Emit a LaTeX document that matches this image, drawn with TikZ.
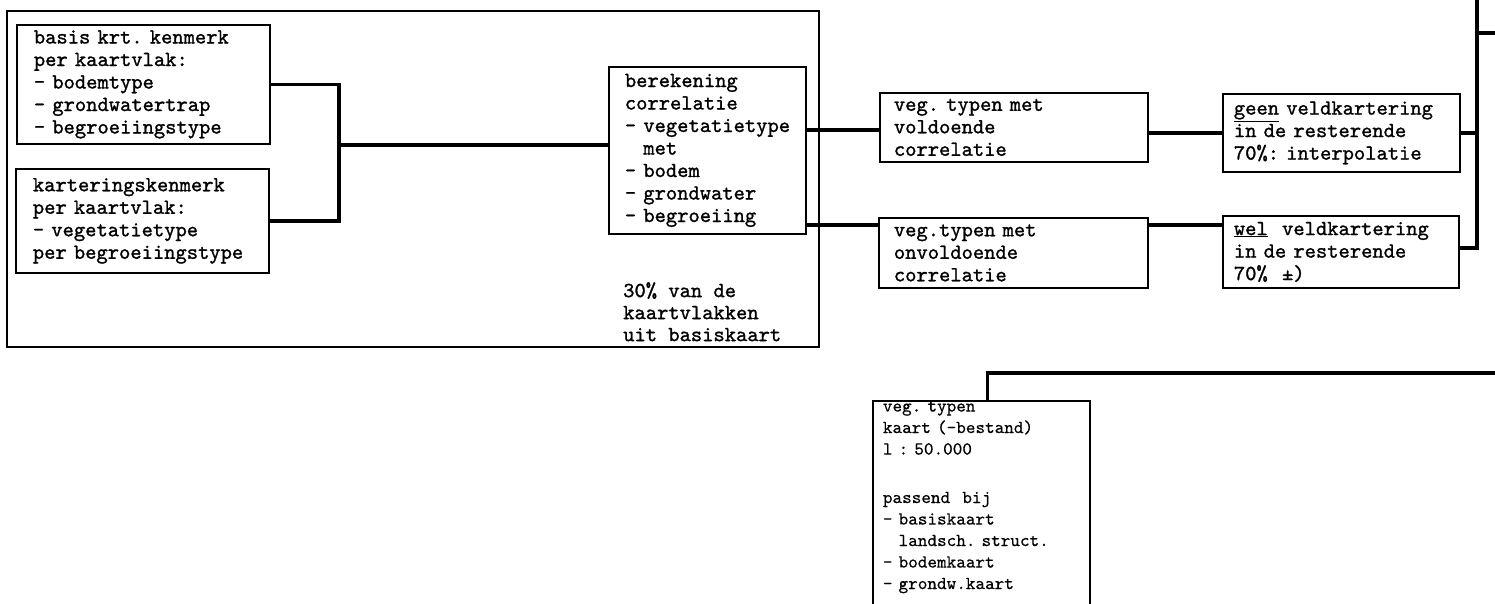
\documentclass[tikz,border=0pt]{standalone}
\usepackage{fontspec}
\newfontfamily\twfont[FakeBold=1.2]{lmmono10-regular.otf}
\newfontfamily\lowfont[FakeBold=0.4]{lmmono10-regular.otf}
\newcommand\monospacing{\spaceskip=0.525em plus 0pt minus 0pt\relax\xspaceskip=0.525em plus 0pt minus 0pt\relax}
\usetikzlibrary{calc}
\hyphenpenalty=10000\relax
\exhyphenpenalty=10000\relax
\frenchspacing
\begin{document}
\begin{tikzpicture}[x=1pt,y=-1pt,
  box/.style={draw, line width=1.8pt, rectangle, anchor=north west, align=left,
    inner ysep=0pt, font=\twfont\fontsize{21.5}{22.5}\selectfont\monospacing},
  lowbox/.style={draw, line width=1.8pt, rectangle, anchor=north west, align=left,
    inner ysep=0.5pt, font=\lowfont\fontsize{18.3}{21.5}\selectfont\monospacing},
  frame/.style={draw, line width=1.6pt, rectangle, anchor=north west, inner sep=0pt},
  note/.style={anchor=north west, align=left, inner sep=0pt,
    font=\twfont\fontsize{21.5}{22}\selectfont\monospacing},
  conn/.style={line width=3.8pt}]
\useasboundingbox (0,0) rectangle (1495,603);

\node[frame, minimum width=812pt, minimum height=336pt] (F) at (6,10) {};

\node[box, inner xsep=17pt, text width=219pt, minimum height=119pt] (A) at (16,24)
  {basis krt. kenmerk\\per kaartvlak:\\-~bodemtype\\-~grondwatertrap\\-~begroeiingstype};
\node[box, inner xsep=17pt, text width=219pt, minimum height=104pt] (B) at (15,168)
  {karteringskenmerk\\per kaartvlak:\\-~vegetatietype\\per~begroeiingstype};
\node[box, inner xsep=16pt, text width=165pt, minimum height=167pt] (C) at (608,66)
  {berekening\\correlatie\\\mbox{-~vegetatietype}\\\phantom{-~}met\\-~bodem\\-~grondwater\\-~begroeiing};
\node[note] (T) at (623,282) {30\% van de\\kaartvlakken\\uit basiskaart};

\node[box, inner xsep=14pt, text width=240pt, minimum height=69pt] (V1) at (879,92)
  {veg. typen met\\voldoende\\correlatie};
\node[box, inner xsep=15pt, text width=239pt, minimum height=70pt] (V2) at (878,217)
  {veg.typen met\\onvoldoende\\correlatie};
\node[box, inner xsep=11pt, text width=215pt, minimum height=78pt] (G) at (1222,93)
  {\underline{geen} veldkartering\\in de resterende\\70\%: interpolatie};
\node[box, inner xsep=11pt, text width=214pt, minimum height=72pt] (W) at (1222,215)
  {\underline{wel}~~veldkartering\\in de resterende\\70\%~~±)};

\node[lowbox, inner xsep=10pt, text width=197pt] (K) at (872,400)
  {veg. typen\\kaart (-bestand)\\l : 50.000\\[27pt]passend~~bij\\-~basiskaart\\\phantom{-~}landsch. struct.\\-~bodemkaart\\-~grondw.kaart\\\mbox{}};

\coordinate (j) at (339,145);
\draw[conn] (A.east) -| (j) |- (B.east);
\draw[conn] (j) -- (j -| C.west);
\draw[conn] ($(V1.west)+(0,2.5)$) coordinate (p1) -- (p1 -| C.east);
\draw[conn] ($(C.south east)+(0,-10)$) coordinate (p2) -- (p2 -| V2.west);
\draw[conn] (G.west) -- (G.west -| V1.east);
\draw[conn] ($(V2.north east)+(0,8)$) coordinate (p3) -- (p3 -| W.west);
\coordinate (r0) at (1477,-5);
\coordinate (o1) at (1500,33);
\coordinate (o2) at (1500,373);
\draw[conn] (G.east) -- (G.east -| r0);
\draw[conn] (r0) |- ($(W.east)+(0,-4)$);
\draw[conn] (r0 |- o1) -- (o1);
\draw[conn] ($(K.north)+(6,0)$) |- (o2);
\end{tikzpicture}
\end{document}
